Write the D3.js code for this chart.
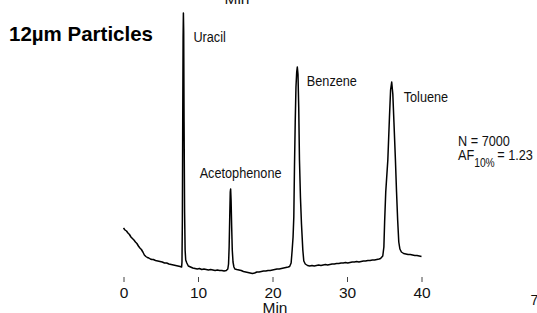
<!DOCTYPE html>
<html>
<head>
<meta charset="utf-8">
<script src="https://cdn.jsdelivr.net/npm/d3@7"></script>
<style>
  body { margin: 0; background: #fff; }
  svg { display: block; }
  text { font-family: "Liberation Sans", Arial, sans-serif; }
</style>
</head>
<body>
<div id="chart"></div>
<script>
// chromatogram trace: [time (min), signal]
const trace = [
  [0, 44], [0.2, 42], [0.4, 41], [0.6, 39], [0.8, 37.5], [1.0, 35], [1.2, 33.5], [1.4, 32],
  [1.6, 30], [1.8, 28.5], [2.0, 26], [2.2, 24], [2.4, 22.5], [2.6, 20], [2.8, 17], [3.0, 15.5],
  [3.2, 14.5], [3.4, 14], [3.6, 13], [3.8, 12.5], [4.0, 12.5], [4.3, 11.5], [4.6, 11], [4.9, 10.5],
  [5.2, 10], [5.5, 9], [5.8, 9], [6.1, 8], [6.4, 7.5], [6.7, 7], [7.0, 6.5], [7.3, 6], [7.6, 5.5],
  [7.8, 5],
  // uracil
  [7.85, 10], [7.9, 50], [7.95, 150], [8.0, 235], [8.04, 259], [8.08, 240], [8.13, 150], [8.2, 60],
  [8.27, 22], [8.35, 12], [8.5, 9], [8.7, 6], [9.0, 5], [9.3, 4], [9.6, 3.5], [9.9, 3], [10.2, 3.5],
  [10.5, 2.5], [10.8, 3], [11.1, 2.5], [11.4, 2], [11.7, 2.5], [12.0, 2], [12.3, 1.5], [12.6, 2],
  [12.9, 1.5], [13.2, 1.5], [13.5, 1], [13.8, 1.5], [14.0, 3],
  // acetophenone
  [14.1, 8], [14.18, 25], [14.26, 55], [14.33, 80], [14.38, 83], [14.44, 72], [14.52, 45], [14.6, 22],
  [14.7, 10], [14.82, 5], [14.95, 3], [15.2, 2.5], [15.5, 2], [15.8, 1.5], [16.1, 0.5], [16.4, 0],
  [16.7, -0.5], [17.0, -1], [17.3, -1.5], [17.6, -1], [17.9, 0], [18.2, 0], [18.5, 0.5], [18.8, 1],
  [19.1, 1], [19.4, 1.5], [19.7, 1.5], [20.0, 2], [20.3, 2.5], [20.6, 3], [20.9, 3], [21.2, 3.5],
  [21.5, 4], [21.8, 4.5], [22.1, 5], [22.3, 5.5],
  // benzene
  [22.5, 9], [22.64, 22], [22.76, 35], [22.86, 55], [22.95, 105], [23.05, 150], [23.15, 185],
  [23.25, 200], [23.33, 205], [23.42, 198], [23.52, 165], [23.62, 112], [23.75, 75], [23.89, 48],
  [24.07, 22], [24.2, 11], [24.4, 8], [24.7, 6.5], [25.0, 6], [25.3, 6.5], [25.6, 6], [25.9, 6.5],
  [26.2, 7], [26.5, 6.5], [26.8, 7], [27.1, 7.5], [27.4, 7], [27.7, 7.5], [28.0, 8], [28.3, 8],
  [28.6, 8.5], [28.9, 8.5], [29.2, 9], [29.5, 9], [29.8, 9.5], [30.1, 9], [30.4, 9.5], [30.7, 10],
  [31.0, 10], [31.3, 10.5], [31.6, 10], [31.9, 10.5], [32.2, 11], [32.5, 11], [32.8, 11.5],
  [33.1, 11.5], [33.4, 12], [33.7, 12], [34.0, 12.5], [34.3, 13], [34.5, 13.5],
  // toluene
  [34.8, 16], [34.95, 25], [35.05, 50], [35.2, 80], [35.48, 112], [35.7, 155], [35.85, 182],
  [36.0, 190], [36.15, 178], [36.3, 150], [36.5, 112], [36.65, 80], [36.8, 52], [36.95, 30],
  [37.1, 23], [37.3, 20], [37.6, 18.5], [37.9, 18], [38.2, 17.5], [38.5, 17.5], [38.8, 17],
  [39.1, 16.5], [39.4, 16.5], [39.7, 16], [40.0, 15.5]
];

const peakNames = ["Uracil", "Acetophenone", "Benzene", "Toluene"];
const peakTimes = [8.04, 14.38, 23.33, 36.0];
const xTicks = [0, 10, 20, 30, 40];

const width = 537, height = 313;
const narrow = 0.82; // no narrow face installed, squeeze the regular one

const svg = d3.select("#chart")
    .append("svg")
    .attr("width", width)
    .attr("height", height);

svg.append("rect").attr("width", width).attr("height", height).attr("fill", "#fff");

// X axis
const x = d3.scaleLinear()
    .domain([0, 40])
    .range([123.5, 421.5]);

// signal scale
const y = d3.scaleLinear()
    .domain([0, 260])
    .range([272, 12]);

const axis = svg.append("g")
    .attr("transform", "translate(0,277)")
    .call(d3.axisBottom(x).tickValues(xTicks).tickSize(5).tickPadding(5));
axis.select(".domain").remove();
axis.selectAll(".tick line").attr("stroke", "#444").attr("stroke-width", 1);
axis.selectAll(".tick text")
    .attr("fill", "#111")
    .style("font-family", "'Liberation Sans', Arial, sans-serif")
    .style("font-size", "15.5px");

// axis label
svg.append("text")
    .attr("x", x(20) + 2.5)
    .attr("y", 312.5)
    .attr("text-anchor", "middle")
    .style("font-size", "15.5px")
    .attr("fill", "#111")
    .text("Min");

// clipped label at the top edge
svg.append("text")
    .attr("x", 237)
    .attr("y", 4)
    .attr("text-anchor", "middle")
    .style("font-size", "15.5px")
    .attr("fill", "#111")
    .text("Min");

// trace
svg.append("path")
    .datum(trace)
    .attr("fill", "none")
    .attr("stroke", "#000")
    .attr("stroke-width", 1.5)
    .attr("stroke-linejoin", "round")
    .attr("d", d3.line()
        .x(d => x(d[0]))
        .y(d => y(d[1]))
    );

// peak labels (offset from each peak)
const labelOffsets = [[10, 42], [-31, 178], [9.5, 86], [12, 102]];
svg.selectAll(".peak-label")
    .data(peakNames)
    .enter()
    .append("text")
    .attr("class", "peak-label")
    .attr("transform", (d, i) => `translate(${x(peakTimes[i]) + labelOffsets[i][0]},${labelOffsets[i][1]}) scale(${narrow},1)`)
    .style("font-size", "15.5px")
    .attr("fill", "#111")
    .text(d => d);

// title
svg.append("text")
    .attr("x", 9)
    .attr("y", 41)
    .style("font-weight", "bold")
    .style("font-size", "20.5px")
    .attr("fill", "#000")
    .text("12µm Particles");

// column stats
svg.append("text")
    .attr("transform", `translate(458,146) scale(${narrow},1)`)
    .style("font-size", "15.5px")
    .attr("fill", "#111")
    .text("N = 7000");

const af = svg.append("text")
    .attr("transform", `translate(458,159.5) scale(${narrow},1)`)
    .style("font-size", "15.5px")
    .attr("fill", "#111");
af.append("tspan").text("AF");
af.append("tspan").attr("dy", 7).style("font-size", "12.5px").text("10%");
af.append("tspan").attr("dy", -7).attr("dx", 3).text("= 1.23");

// page number
svg.append("text")
    .attr("x", 530.5)
    .attr("y", 305)
    .style("font-size", "14px")
    .attr("fill", "#111")
    .text("7");
</script>
</body>
</html>
